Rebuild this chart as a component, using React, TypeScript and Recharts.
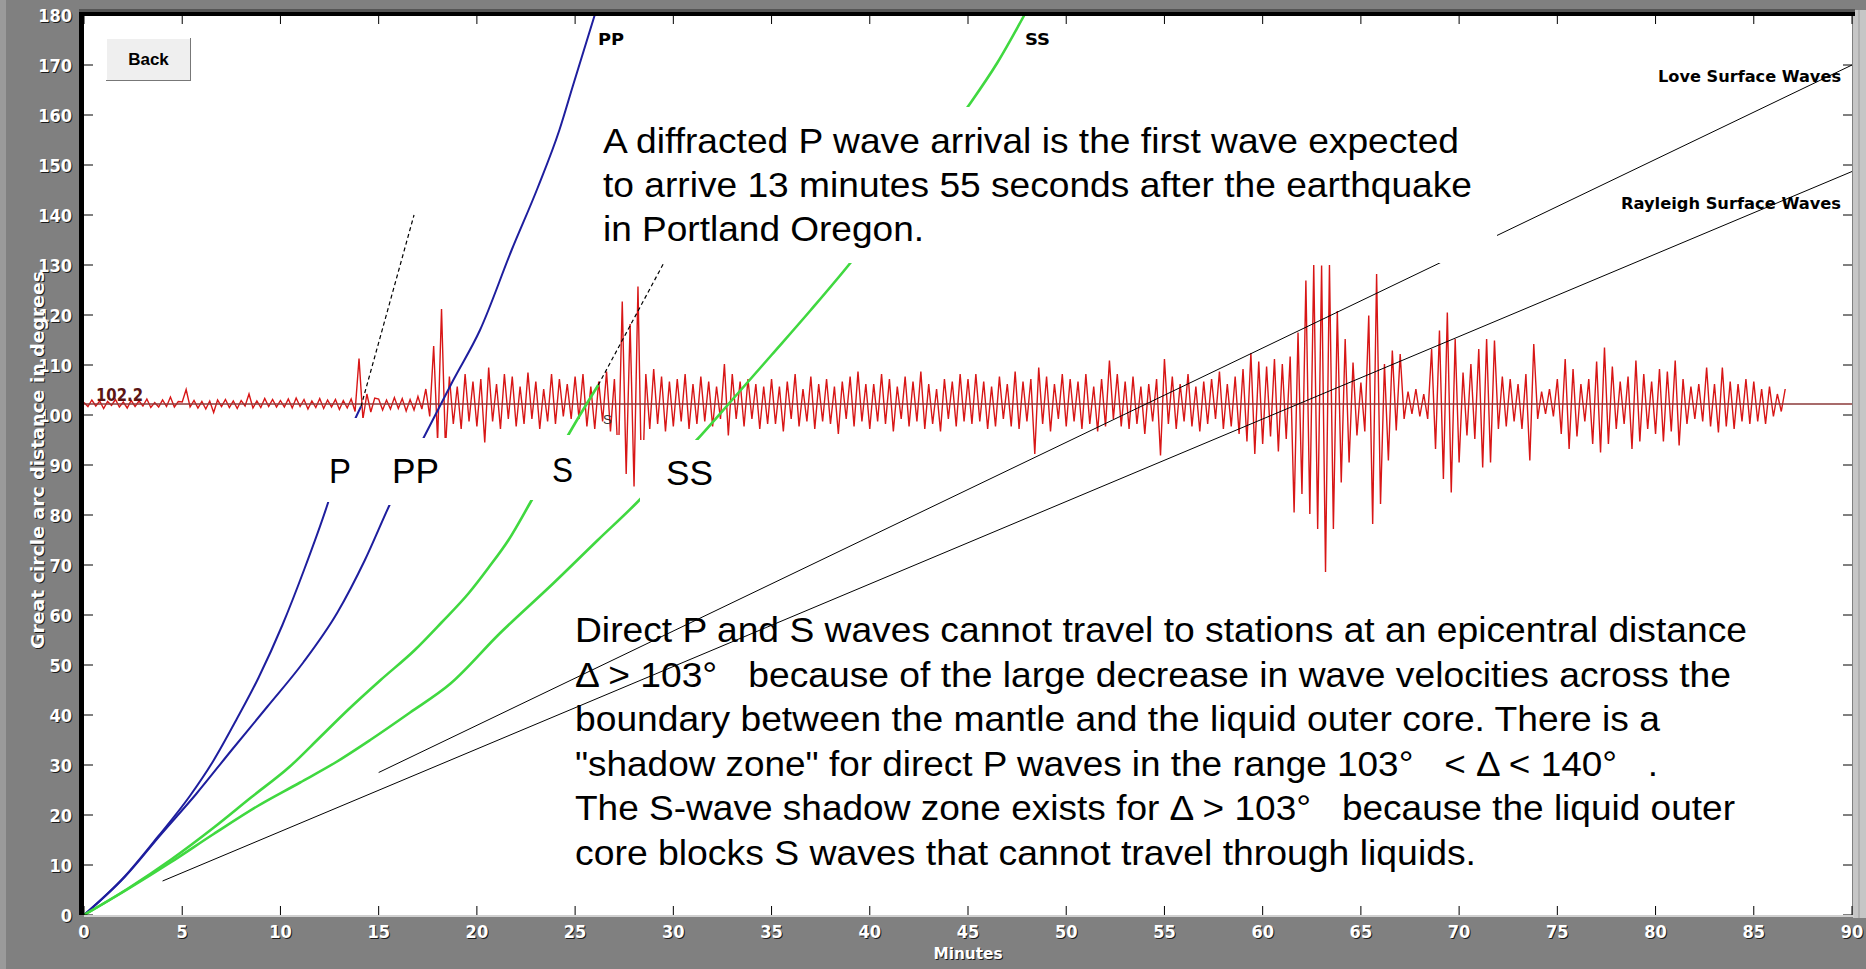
import React from 'react';
import { LineChart, Line, XAxis, YAxis, ReferenceLine } from 'recharts';

const W = 1866;
const H = 969;
const PLOT_LEFT = 84;
const PLOT_TOP = 15;
const PLOT_RIGHT = 1852;
const PLOT_BOTTOM = 915;

const X_TICKS = [0, 5, 10, 15, 20, 25, 30, 35, 40, 45, 50, 55, 60, 65, 70, 75, 80, 85, 90];
const Y_TICKS = [0, 10, 20, 30, 40, 50, 60, 70, 80, 90, 100, 110, 120, 130, 140, 150, 160, 170, 180];

// seismogram: station distance 102.2 degrees, one sample every 0.2 min
const TRACE_BASE = 102.2;
const TRACE_STEP = 0.2;
// deviation from the baseline in degrees, one row per 5 minutes
const TRACE_DEV = [
  [0.3, -0.5, 0.8, -0.4, 0.6, -0.9, 0.5, -0.3, 0.9, -0.6, 0.4, -0.8, 0.7, -0.5, 0.6, -0.4, 1.0, -0.7, 0.3, -0.6, 0.8, -0.5, 1.4, -0.6, 0.5],
  [0.4, 2.9, -0.6, 0.7, -0.8, 0.5, -1.0, 0.6, -1.7, 0.8, -0.5, 0.9, -0.7, 0.6, -0.9, 0.7, -0.4, 2.0, -0.8, 0.6, -0.7, 1.1, -0.5, 0.9, -0.6],
  [0.7, -0.6, 1.0, -0.8, 1.2, -0.5, 0.9, -1.0, 0.6, -0.7, 1.1, -0.9, 0.8, -0.6, 0.9, -1.1, 0.7, -0.8, 1.0, -1.5, 9.1, -3.0, 2.0, -1.6, 1.2],
  [1.0, -1.2, 0.8, -1.0, 1.3, -0.9, 1.1, -1.4, 0.9, -1.2, 1.5, -1.0, 3.0, -2.5, 11.6, -7.5, 19.0, -9.0, 5.5, -4.0, 3.5, -5.0, 6.0, -3.5, 4.5],
  [-4.5, 5.0, -7.7, 7.3, -3.5, 4.0, -5.0, 6.0, -3.0, 5.5, -4.5, 3.5, -4.0, 6.3, -3.0, 4.5, -5.0, 3.0, -3.5, 6.0, -4.0, 5.0, -2.5, 4.0, -3.0],
  [5.5, -3.0, 6.0, -4.5, 3.5, -5.0, 4.5, -3.5, 6.5, -5.5, 5.0, -11.7, 20.5, -14.0, 16.0, -16.5, 23.5, -19.5, 6.0, -5.0, 7.0, -4.0, 5.5, -5.5, 4.5],
  [-4.5, 5.0, -3.5, 6.0, -5.0, 4.0, -4.0, 5.5, -3.5, 4.5, -4.5, 3.5, -3.0, 8.0, -6.3, 6.0, -3.0, 4.5, -4.5, 5.0, -3.0, 4.0, -5.0, 3.5, -4.0],
  [5.0, -4.0, 3.5, -5.5, 4.5, -3.0, 6.0, -4.5, 3.0, -3.5, 5.5, -5.0, 4.0, -3.5, 5.0, -4.0, 3.5, -6.0, 4.5, -3.0, 5.5, -4.5, 6.5, -3.5, 4.0],
  [-5.0, 4.0, -3.5, 6.0, -4.0, 5.0, -5.5, 3.5, -3.0, 5.5, -4.5, 4.5, -3.5, 6.5, -5.0, 4.0, -4.0, 3.0, -5.5, 5.0, -3.0, 4.5, -4.5, 6.0, -3.5],
  [5.0, -4.0, 6.0, -3.5, 4.5, -5.0, 3.5, -4.5, 5.5, -3.0, 4.0, -4.5, 6.5, -5.0, 4.5, -3.5, 5.0, -10.0, 7.3, -4.0, 5.5, -5.5, 4.0, -3.0, 6.0],
  [-4.5, 5.0, -3.5, 4.5, -5.0, 6.0, -4.0, 3.5, -5.5, 5.0, -4.5, 8.7, -3.0, 6.0, -4.5, 4.5, -5.0, 5.5, -4.0, 3.5, -6.0, 4.0, -3.5, 5.0, -10.3],
  [9.0, -4.0, 5.5, -5.0, 4.0, -3.5, 6.0, -4.5, 3.5, -5.5, 4.5, -4.0, 5.0, -3.0, 6.5, -5.0, 4.0, -4.5, 5.5, -6.0, 7.0, -7.5, 10.2, -10.0, 8.5],
  [-8.0, 7.5, -6.5, 9.0, -9.5, 8.0, -7.0, 9.5, -21.7, 14.3, -18.0, 24.7, -22.0, 27.8, -25.0, 27.7, -33.6, 27.8, -25.0, 18.6, -15.7, 13.0, -11.7, 8.3, -6.3],
  [4.3, -5.5, 17.7, -24.0, 26.0, -20.0, 8.0, -11.3, 10.7, -5.3, 10.0, -3.0, 2.5, -2.0, 3.0, -2.5, 2.0, -3.0, 11.0, -9.0, 14.7, -15.0, 18.3, -17.7, 13.0],
  [-11.7, 6.3, -6.3, 8.0, -7.0, 11.0, -12.7, 13.0, -11.7, 12.7, -5.0, 5.5, -4.5, 5.0, -3.5, 4.0, -5.0, 6.0, -11.3, 12.0, -3.0, 2.5, -2.0, 3.0, -2.5],
  [5.0, -6.0, 9.0, -9.0, 7.0, -6.5, 4.0, -3.5, 5.0, -8.0, 8.5, -9.7, 11.3, -8.0, 7.5, -5.0, 4.5, -4.0, 5.5, -9.0, 8.7, -7.5, 6.0, -5.0, 4.5],
  [-6.0, 7.0, -7.5, 6.5, -5.5, 8.7, -8.3, 5.0, -4.0, 3.5, -3.0, 4.0, -3.5, 7.3, -4.5, 4.0, -5.7, 7.3, -4.5, 4.5, -5.0, 4.0, -3.5, 5.0, -4.0],
  [4.5, -3.5, 3.0, -4.0, 3.5, -2.5, 2.0, -1.5, 3.0],
];

// travel time curves: [minutes, degrees]
const P_CURVE = [[0, 0], [2.07, 7.7], [3.77, 15.7], [5.37, 23.7], [6.61, 31], [7.75, 39], [8.89, 47.5], [10.1, 58], [11.2, 69], [12.41, 82.3], [13.46, 96], [14.1, 101.7]];
const PP_CURVE = [[0, 0], [2.07, 7.6], [3.89, 16.0], [5.71, 24.2], [7.52, 33.0], [9.34, 41.7], [11.16, 50.5], [12.9, 60.5], [14.3, 71], [15.59, 82.3], [17.27, 95.3], [18.8, 107], [20.16, 117], [21.77, 133], [23.1, 145.5], [24.2, 157], [24.9, 166], [26.0, 180]];
const S_CURVE = [[0, 0], [2.2, 5.2], [4.4, 11], [6.61, 17.5], [8.5, 23.5], [10.48, 29.7], [12.0, 35.5], [13.43, 41], [15.1, 47], [16.84, 53], [18.2, 58.5], [19.57, 64.3], [20.6, 69.5], [21.61, 75], [22.75, 82.7], [23.7, 89.3], [24.65, 96], [25.4, 101], [26.18, 106]];
const SS_CURVE = [[0, 0], [2.2, 5.1], [4.4, 10.5], [6.6, 16.2], [8.8, 21.7], [11.0, 26.5], [12.8, 30.5], [14.57, 35], [16.6, 40.5], [18.66, 46.3], [21.16, 56.3], [23.88, 66.3], [26.16, 75], [28.2, 82.7], [29.7, 89], [31.19, 95], [33.1, 103.5], [35.0, 112], [37.0, 121], [38.99, 130.3], [41.0, 140.5], [43.0, 151], [45.0, 161.7], [46.5, 170.5], [47.87, 180]];
const P_DIFF = [[14.1, 101.7], [16.8, 140]];
const S_DIFF = [[26.18, 106], [29.5, 130.3]];
const LOVE = [[15, 28.5], [90, 170]];
const RAYLEIGH = [[4, 6.8], [90, 148.7]];

const pts = (arr: number[][]) => arr.map(([t, d]) => ({ t, d }));
const trace = TRACE_DEV.flat().map((v, i) => ({ t: Math.round(i * TRACE_STEP * 10) / 10, d: TRACE_BASE + v }));

const AXIS_FONT = "'DejaVu Sans Condensed', 'DejaVu Sans', sans-serif";
const TEXT_FONT = "'Liberation Sans', Arial, sans-serif";

const renderXTick = (props: any) => {
  const { x, y, payload } = props;
  return (
    <g>
      <line x1={x} x2={x} y1={PLOT_BOTTOM} y2={PLOT_BOTTOM - 9} stroke="#000" />
      <line x1={x} x2={x} y1={PLOT_TOP} y2={PLOT_TOP + 9} stroke="#000" />
      <text x={x + 1} y={y + 24} textAnchor="middle" fontFamily={AXIS_FONT} fontWeight={700} fontSize={18} fill="#1a1a1a">{payload.value}</text>
      <text x={x} y={y + 23} textAnchor="middle" fontFamily={AXIS_FONT} fontWeight={700} fontSize={18} fill="#fff">{payload.value}</text>
    </g>
  );
};

const renderYTick = (props: any) => {
  const { x, y, payload } = props;
  return (
    <g>
      <line x1={PLOT_LEFT} x2={PLOT_LEFT + 9} y1={y} y2={y} stroke="#000" />
      <line x1={PLOT_RIGHT} x2={PLOT_RIGHT - 9} y1={y} y2={y} stroke="#000" />
      <text x={x - 11} y={y + 7.5} textAnchor="end" fontFamily={AXIS_FONT} fontWeight={700} fontSize={18} fill="#1a1a1a">{payload.value}</text>
      <text x={x - 12} y={y + 6.5} textAnchor="end" fontFamily={AXIS_FONT} fontWeight={700} fontSize={18} fill="#fff">{payload.value}</text>
    </g>
  );
};

const Big = ({ x, y, w, children }: { x: number; y: number; w: number; children: React.ReactNode }) => (
  <text x={x} y={y} fontFamily={TEXT_FONT} fontSize={35} fill="#000" textLength={w} lengthAdjust="spacingAndGlyphs">{children}</text>
);

const Small = ({ x, y, w, children }: { x: number; y: number; w: number; children: React.ReactNode }) => (
  <text x={x} y={y} fontFamily={AXIS_FONT} fontWeight={700} fontSize={16} fill="#000" textLength={w} lengthAdjust="spacingAndGlyphs">{children}</text>
);

const sp = '\u00a0\u00a0\u00a0';

export default function App() {
  return (
    <div style={{ position: 'fixed', left: 0, top: 0, width: W, height: H, background: '#808080', overflow: 'hidden' }}>
      <div style={{ position: 'absolute', left: PLOT_LEFT, top: PLOT_TOP, width: PLOT_RIGHT - PLOT_LEFT, height: PLOT_BOTTOM - PLOT_TOP, background: '#fff' }} />
      <div style={{ position: 'absolute', left: 0, top: 0 }}>
        <LineChart width={W} height={H} margin={{ top: PLOT_TOP, right: W - PLOT_RIGHT, bottom: 0, left: 0 }}>
          <XAxis type="number" dataKey="t" domain={[0, 90]} ticks={X_TICKS} interval={0} height={H - PLOT_BOTTOM}
            axisLine={false} tickLine={false} tickSize={0} tickMargin={0} tick={renderXTick} />
          <YAxis type="number" dataKey="d" domain={[0, 180]} ticks={Y_TICKS} interval={0} width={PLOT_LEFT}
            axisLine={false} tickLine={false} tickSize={0} tickMargin={0} tick={renderYTick} />
          <Line data={trace} dataKey="d" type="linear" stroke="#d81616" strokeWidth={1.4} dot={false} isAnimationActive={false} />
          <ReferenceLine y={TRACE_BASE} stroke="#8b3a3a" strokeWidth={1.5} />
          <Line data={pts(P_CURVE)} dataKey="d" type="monotone" stroke="#1e1e9e" strokeWidth={2} dot={false} isAnimationActive={false} />
          <Line data={pts(PP_CURVE)} dataKey="d" type="monotone" stroke="#1e1e9e" strokeWidth={2} dot={false} isAnimationActive={false} />
          <Line data={pts(S_CURVE)} dataKey="d" type="monotone" stroke="#40d840" strokeWidth={2.6} dot={false} isAnimationActive={false} />
          <Line data={pts(SS_CURVE)} dataKey="d" type="monotone" stroke="#40d840" strokeWidth={2.6} dot={false} isAnimationActive={false} />
          <Line data={pts(P_DIFF)} dataKey="d" type="linear" stroke="#000" strokeWidth={1.2} strokeDasharray="4 3" dot={false} isAnimationActive={false} />
          <Line data={pts(S_DIFF)} dataKey="d" type="linear" stroke="#000" strokeWidth={1.2} strokeDasharray="4 3" dot={false} isAnimationActive={false} />
          <Line data={pts(LOVE)} dataKey="d" type="linear" stroke="#000" strokeWidth={1} dot={false} isAnimationActive={false} />
          <Line data={pts(RAYLEIGH)} dataKey="d" type="linear" stroke="#000" strokeWidth={1} dot={false} isAnimationActive={false} />
        </LineChart>
      </div>
      <svg width={W} height={H} style={{ position: 'absolute', left: 0, top: 0, pointerEvents: 'none' }}>
        {/* frame */}
        <rect x={0} y={0} width={6} height={H} fill="#9a9a9a" />
        <rect x={1853} y={10} width={13} height={908} fill="#c6c6c6" />
        <line x1={1859} x2={1859} y1={10} y2={918} stroke="#9a9a9a" />
        <rect x={79} y={9} width={1776} height={3} fill="#555" />
        <rect x={79} y={12} width={1776} height={4} fill="#000" />
        <rect x={79} y={12} width={5} height={903} fill="#000" />
        <rect x={84} y={915} width={1770} height={2} fill="#d0d0d0" />

        {/* back button */}
        <rect x={106} y={38} width={85} height={43} fill="#efefef" />
        <line x1={106} x2={191} y1={38.5} y2={38.5} stroke="#fff" />
        <line x1={106.5} x2={106.5} y1={38} y2={81} stroke="#fff" />
        <line x1={106} x2={191} y1={80.5} y2={80.5} stroke="#777" />
        <line x1={190.5} x2={190.5} y1={38} y2={81} stroke="#777" />
        <text x={148.5} y={65} textAnchor="middle" fontFamily={TEXT_FONT} fontWeight={700} fontSize={17} fill="#000">Back</text>

        {/* label boxes */}
        <rect x={326} y={418} width={41} height={84} fill="#fff" />
        <rect x={367} y={438} width={103} height={67} fill="#fff" />
        <rect x={530} y={435} width={90} height={65} fill="#fff" />
        <rect x={640} y={440} width={97} height={63} fill="#fff" />
        <rect x={598} y={107} width={899} height={156} fill="#fff" />

        <Big x={329} y={483} w={22}>P</Big>
        <Big x={392} y={483} w={47}>PP</Big>
        <Big x={552} y={482} w={21}>S</Big>
        <Big x={666} y={485} w={47}>SS</Big>

        <Big x={603} y={153} w={856}>A diffracted P wave arrival is the first wave expected</Big>
        <Big x={603} y={197} w={869}>to arrive 13 minutes 55 seconds after the earthquake</Big>
        <Big x={603} y={241} w={321}>in Portland Oregon.</Big>

        <Big x={575} y={642} w={1172}>Direct P and S waves cannot travel to stations at an epicentral distance</Big>
        <Big x={575} y={687} w={1156}>{`Δ > 103°${sp}because of the large decrease in wave velocities across the`}</Big>
        <Big x={575} y={731} w={1085}>boundary between the mantle and the liquid outer core. There is a</Big>
        <Big x={575} y={776} w={1083}>{`"shadow zone" for direct P waves in the range 103°${sp}< Δ < 140°${sp}.`}</Big>
        <Big x={575} y={820} w={1160}>{`The S-wave shadow zone exists for Δ > 103°${sp}because the liquid outer`}</Big>
        <Big x={575} y={865} w={901}>core blocks S waves that cannot travel through liquids.</Big>

        <Small x={598} y={45} w={26}>PP</Small>
        <Small x={1025} y={45} w={25}>SS</Small>
        <Small x={1658} y={82} w={183}>Love Surface Waves</Small>
        <Small x={1621} y={209} w={220}>Rayleigh Surface Waves</Small>
        <text x={96} y={401} fontFamily={AXIS_FONT} fontWeight={700} fontSize={17} fill="#5b1414" textLength={47} lengthAdjust="spacingAndGlyphs">102.2</text>
        <text x={603} y={424} fontFamily={TEXT_FONT} fontSize={13} fill="#333">S</text>

        {/* axis titles */}
        <text x={969} y={960} textAnchor="middle" fontFamily={AXIS_FONT} fontWeight={700} fontSize={16} fill="#1a1a1a" textLength={69} lengthAdjust="spacingAndGlyphs">Minutes</text>
        <text x={968} y={959} textAnchor="middle" fontFamily={AXIS_FONT} fontWeight={700} fontSize={16} fill="#fff" textLength={69} lengthAdjust="spacingAndGlyphs">Minutes</text>
        <text x={45} y={461} transform="rotate(-90 45 461)" textAnchor="middle" fontFamily={AXIS_FONT} fontWeight={700} fontSize={18} fill="#1a1a1a" textLength={378} lengthAdjust="spacingAndGlyphs">Great circle arc distance in degrees</text>
        <text x={44} y={460} transform="rotate(-90 44 460)" textAnchor="middle" fontFamily={AXIS_FONT} fontWeight={700} fontSize={18} fill="#fff" textLength={378} lengthAdjust="spacingAndGlyphs">Great circle arc distance in degrees</text>
      </svg>
    </div>
  );
}
